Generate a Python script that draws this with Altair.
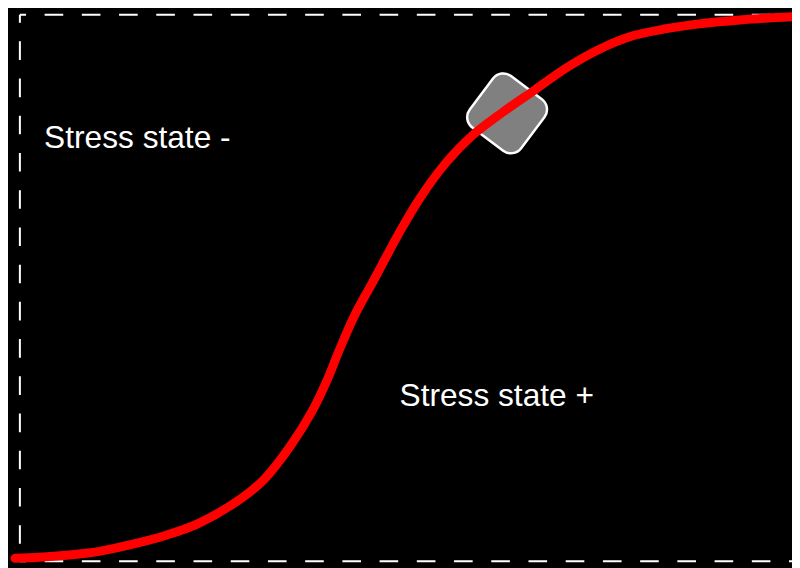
import altair as alt
import pandas as pd

# Page-pixel readings converted to percent of the framed area
# (x: 0 = left frame edge, 100 = right page edge; y: 0 = bottom frame, 100 = top frame)
curve_x = [-0.64, 2.56, 6.03, 10.26, 14.49, 18.85, 23.08, 28.59, 31.67, 35.00,
           37.82, 39.74, 41.41, 43.33, 45.77, 49.36, 51.92, 55.13, 58.59, 62.44,
           66.67, 70.90, 75.26, 79.49, 83.72, 87.18, 93.59, 100.0]
curve_y = [0.54, 0.72, 1.09, 1.81, 3.08, 4.71, 6.88, 11.41, 15.04, 21.01,
           27.36, 32.97, 38.77, 44.93, 51.27, 60.69, 66.67, 72.83, 77.90, 82.07,
           86.23, 90.40, 93.84, 96.20, 97.46, 98.19, 99.09, 99.64]

# Marker position
marker_x = [63.1]
marker_y = [81.96]

# Labels
label_text = ["Stress state -", "Stress state +"]
label_x = [3.14, 49.17]
label_y = [75.54, 28.44]

# Frame (top, bottom horizontal; left vertical)
hframe_y = [100.0, 0.0]
vframe_x = [0.0]

curve_df = pd.DataFrame({"x": curve_x, "y": curve_y, "order": list(range(len(curve_x)))})
marker_df = pd.DataFrame({"x": marker_x, "y": marker_y})
label_df = pd.DataFrame({"x": label_x, "y": label_y, "text": label_text})
hframe_df = pd.DataFrame({"y": hframe_y, "x": [0.0, 0.0], "x2": [110.0, 110.0]})
vframe_df = pd.DataFrame({"x": vframe_x, "y": [100.0], "y2": [0.0]})

xs = alt.Scale(domain=[0, 100], nice=False, zero=False)
ys = alt.Scale(domain=[0, 100], nice=False, zero=False)

hframe = alt.Chart(hframe_df).mark_rule(
    color="white", strokeWidth=2, strokeDash=[18.8, 18.8], strokeDashOffset=12.6, clip=False
).encode(
    x=alt.X("x:Q", scale=xs, axis=None),
    x2="x2:Q",
    y=alt.Y("y:Q", scale=ys, axis=None),
)

vframe = alt.Chart(vframe_df).mark_rule(
    color="white", strokeWidth=2, strokeDash=[18.8, 18.8], strokeDashOffset=10.8, clip=False
).encode(
    x=alt.X("x:Q", scale=xs, axis=None),
    y=alt.Y("y:Q", scale=ys, axis=None),
    y2="y2:Q",
)

rounded_square = ("M -0.6,-1 L 0.6,-1 A 0.4,0.4 0 0 1 1,-0.6 L 1,0.6 "
                  "A 0.4,0.4 0 0 1 0.6,1 L -0.6,1 A 0.4,0.4 0 0 1 -1,0.6 "
                  "L -1,-0.6 A 0.4,0.4 0 0 1 -0.6,-1 Z")

marker = alt.Chart(marker_df).mark_point(
    shape=rounded_square, size=4225, angle=37, filled=True,
    fill="#808080", fillOpacity=1, stroke="white", strokeWidth=2.5, opacity=1, clip=False
).encode(
    x=alt.X("x:Q", scale=xs, axis=None),
    y=alt.Y("y:Q", scale=ys, axis=None),
)

line = alt.Chart(curve_df).mark_line(
    color="#ff0000", strokeWidth=9, strokeCap="round", interpolate="catmull-rom", clip=False
).encode(
    x=alt.X("x:Q", scale=xs, axis=None),
    y=alt.Y("y:Q", scale=ys, axis=None),
    order="order:Q",
)

labels = alt.Chart(label_df).mark_text(
    color="white", fontSize=32, font="Liberation Sans", align="left", baseline="alphabetic", clip=False
).encode(
    x=alt.X("x:Q", scale=xs, axis=None),
    y=alt.Y("y:Q", scale=ys, axis=None),
    text="text:N",
)

chart = alt.layer(hframe, vframe, marker, line, labels).properties(
    width=780, height=552,
    padding={"left": 12, "top": 4, "right": 0, "bottom": 4},
    autosize=alt.AutoSizeParams(type="none"),
    background="black",
).configure_view(stroke=None)

chart.save("out.html", embed_options={"renderer": "svg", "actions": False})
